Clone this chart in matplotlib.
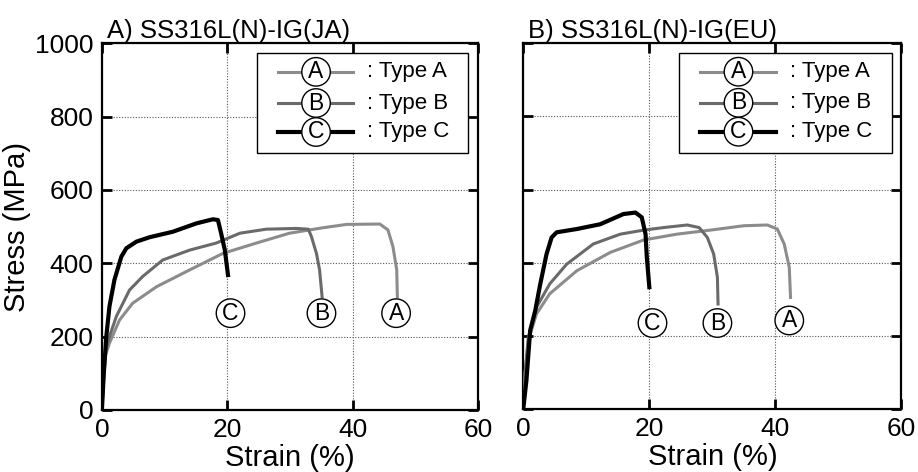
import matplotlib.pyplot as plt
from matplotlib.patches import Rectangle

plt.rcParams['font.family'] = ['Liberation Sans', 'DejaVu Sans']

# ---------- DATA ----------
panel_titles = ["A) SS316L(N)-IG(JA)", "B) SS316L(N)-IG(EU)"]
type_names = ["A", "B", "C"]

# JA
ja_a_strain = [0, 0.3, 0.6, 1.2, 2.8, 4.9, 8.7, 14.0, 19.3, 24.6, 29.9, 35.3, 39.0, 44.3, 45.6, 46.4, 47.0, 47.1]
ja_a_stress = [0, 90, 150, 182, 245, 291, 336, 382, 427, 455, 482, 497, 506, 507, 491, 445, 382, 309]
ja_b_strain = [0, 0.3, 0.6, 1.2, 2.3, 4.4, 6.5, 9.7, 14.0, 18.2, 22.0, 26.2, 31.0, 32.9, 33.4, 34.2, 34.7, 35.1]
ja_b_stress = [0, 95, 160, 200, 255, 327, 364, 409, 436, 455, 482, 493, 495, 493, 473, 427, 382, 309]
ja_c_strain = [0, 0.3, 0.7, 1.2, 2.0, 3.1, 3.9, 5.5, 7.6, 11.3, 15.1, 17.7, 18.5, 19.0, 19.6, 20.1]
ja_c_stress = [0, 100, 200, 282, 355, 418, 441, 459, 471, 486, 509, 520, 518, 482, 436, 368]

# EU
eu_a_strain = [0, 0.3, 0.8, 2.1, 4.2, 8.5, 13.8, 19.1, 24.4, 29.7, 35.0, 38.7, 40.3, 41.4, 42.2, 42.4]
eu_a_stress = [0, 100, 187, 260, 315, 378, 428, 462, 478, 489, 501, 503, 492, 451, 387, 305]
eu_b_strain = [0, 0.3, 0.8, 2.1, 4.2, 6.9, 11.1, 15.4, 19.1, 22.3, 26.0, 27.9, 29.2, 30.2, 30.8, 30.9]
eu_b_stress = [0, 100, 196, 278, 342, 396, 451, 478, 489, 496, 503, 496, 469, 424, 360, 287]
eu_c_strain = [0, 0.5, 1.1, 1.9, 2.7, 3.7, 4.5, 5.3, 8.5, 12.2, 15.9, 17.8, 18.8, 19.4, 19.6, 20.0]
eu_c_stress = [0, 78, 215, 269, 342, 424, 469, 483, 492, 505, 533, 537, 524, 478, 415, 333]

# circled end labels (strain, stress)
ja_label_pos = [(46.9, 264), (35.0, 264), (20.5, 264)]
eu_label_pos = [(42.2, 242), (30.8, 235), (20.5, 235)]

colors = ["#8c8c8c", "#6a6a6a", "#000000"]
widths = [2.2, 2.2, 3.0]

# ---------- PLOT ----------
fig = plt.figure(figsize=(9.18, 4.72), dpi=100)
ax1 = fig.add_axes([0.111, 0.1314, 0.410, 0.777])
ax2 = fig.add_axes([0.570, 0.1335, 0.412, 0.775])

panels = [
    (ax1, [(ja_a_strain, ja_a_stress), (ja_b_strain, ja_b_stress), (ja_c_strain, ja_c_stress)], ja_label_pos),
    (ax2, [(eu_a_strain, eu_a_stress), (eu_b_strain, eu_b_stress), (eu_c_strain, eu_c_stress)], eu_label_pos),
]

circ = dict(boxstyle="circle,pad=0.12", fc="white", ec="black", lw=1.0)

for i, (ax, curves, lpos) in enumerate(panels):
    for (x, y), c, w in zip(curves, colors, widths):
        ax.plot(x, y, color=c, lw=w, zorder=3)
    for name, (x, y) in zip(type_names, lpos):
        ax.text(x, y, name, fontsize=16.5, ha="center", va="center", bbox=circ, zorder=4)

    ax.set_xlim(0, 60)
    ax.set_ylim(0, 1000)
    ax.set_xticks([0, 20, 40, 60])
    ax.set_yticks([0, 200, 400, 600, 800, 1000])
    ax.grid(True, color="#555555", linestyle=(0, (1, 1.5)), linewidth=0.8)
    ax.tick_params(direction="in", length=7, width=2, top=True, right=True,
                   labelsize=19, pad=6)
    for sp in ax.spines.values():
        sp.set_linewidth(1.6)
    ax.set_xlabel("Strain (%)", fontsize=21, labelpad=1)
    ax.set_title(panel_titles[i], fontsize=18.5, loc="left", pad=4, x=0.013)

    # legend box drawn by hand
    ax.add_patch(Rectangle((0.411, 0.700), 0.563, 0.273, transform=ax.transAxes,
                           fc="white", ec="black", lw=1.0, zorder=5))
    rows = [0.922, 0.837, 0.758]
    for name, c, w, ry in zip(type_names, colors, widths, rows):
        ax.plot([0.468, 0.668], [ry, ry], transform=ax.transAxes, color=c, lw=w, zorder=6)
        ax.text(0.569, ry, name, transform=ax.transAxes, fontsize=16.5, ha="center",
                va="center", bbox=circ, zorder=7)
        ax.text(0.705, ry, ": Type " + name, transform=ax.transAxes, fontsize=16,
                ha="left", va="center", zorder=7)

ax1.set_ylabel("Stress (MPa)", fontsize=21, labelpad=3)
ax2.tick_params(labelleft=False)

fig.savefig("out.png", dpi=100)
